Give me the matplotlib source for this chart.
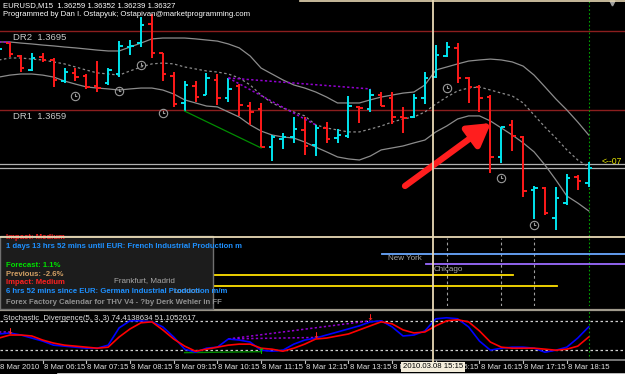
import matplotlib
matplotlib.use('Agg')
import matplotlib.pyplot as plt
import matplotlib.transforms as mtransforms
from matplotlib import font_manager
from matplotlib.path import Path
from matplotlib.patches import Rectangle
import numpy as np

# ---- EURUSD M15 bars, 8 Mar 2010 05:15 .. 18:45 ----
opens = [1.36859, 1.36895, 1.36836, 1.36772, 1.36831, 1.36818, 1.36722, 1.36759, 1.36745, 1.36699,
         1.36713, 1.36754, 1.36877, 1.36895, 1.36982, 1.36850, 1.36745, 1.36622, 1.36699, 1.36658,
         1.36727, 1.36645, 1.36699, 1.36608, 1.36595, 1.36421, 1.36458, 1.36467, 1.36499, 1.36430,
         1.36508, 1.36462, 1.36471, 1.36604, 1.36595, 1.36658, 1.36645, 1.36558, 1.36558, 1.36645,
         1.36740, 1.36836, 1.36873, 1.36736, 1.36695, 1.36649, 1.36376, 1.36522, 1.36467, 1.36225,
         1.36234, 1.36098, 1.36166, 1.36285, 1.36259]
highs = [1.36886, 1.36900, 1.36841, 1.36850, 1.36850, 1.36827, 1.36781, 1.36781, 1.36754, 1.36813,
         1.36781, 1.36904, 1.36909, 1.37014, 1.37027, 1.36850, 1.36763, 1.36722, 1.36722, 1.36759,
         1.36754, 1.36736, 1.36708, 1.36626, 1.36622, 1.36476, 1.36485, 1.36558, 1.36558, 1.36522,
         1.36535, 1.36503, 1.36654, 1.36608, 1.36686, 1.36672, 1.36672, 1.36604, 1.36663, 1.36763,
         1.36886, 1.36900, 1.36895, 1.36740, 1.36704, 1.36658, 1.36512, 1.36544, 1.36471, 1.36244,
         1.36239, 1.36239, 1.36298, 1.36294, 1.36352]
lows = [1.36854, 1.36831, 1.36763, 1.36768, 1.36809, 1.36695, 1.36713, 1.36722, 1.36686, 1.36672,
        1.36704, 1.36740, 1.36841, 1.36877, 1.36827, 1.36722, 1.36604, 1.36585, 1.36626, 1.36658,
        1.36613, 1.36626, 1.36563, 1.36522, 1.36417, 1.36357, 1.36412, 1.36440, 1.36385, 1.36380,
        1.36440, 1.36440, 1.36462, 1.36531, 1.36581, 1.36608, 1.36526, 1.36485, 1.36553, 1.36617,
        1.36736, 1.36831, 1.36713, 1.36622, 1.36581, 1.36303, 1.36348, 1.36403, 1.36193, 1.36093,
        1.36111, 1.36043, 1.36157, 1.36225, 1.36239]
closes = [1.36868, 1.36845, 1.36781, 1.36827, 1.36818, 1.36727, 1.36763, 1.36740, 1.36695, 1.36690,
          1.36772, 1.36882, 1.36882, 1.36977, 1.36850, 1.36754, 1.36617, 1.36704, 1.36649, 1.36736,
          1.36645, 1.36686, 1.36613, 1.36581, 1.36421, 1.36467, 1.36467, 1.36503, 1.36426, 1.36508,
          1.36458, 1.36476, 1.36608, 1.36599, 1.36658, 1.36608, 1.36558, 1.36553, 1.36645, 1.36736,
          1.36841, 1.36877, 1.36736, 1.36695, 1.36645, 1.36376, 1.36512, 1.36471, 1.36221, 1.36234,
          1.36120, 1.36189, 1.36280, 1.36266, 1.36327]

# envelope / band lines
band_upper = [1.36900, 1.36900, 1.36895, 1.36891, 1.36886, 1.36882, 1.36877, 1.36873, 1.36868, 1.36863,
              1.36859, 1.36859, 1.36877, 1.36895, 1.36914, 1.36918, 1.36918, 1.36918, 1.36914, 1.36909,
              1.36904, 1.36891, 1.36873, 1.36836, 1.36781, 1.36754, 1.36727, 1.36704, 1.36690, 1.36672,
              1.36649, 1.36622, 1.36622, 1.36622, 1.36636, 1.36649, 1.36658, 1.36667, 1.36672, 1.36704,
              1.36772, 1.36786, 1.36800, 1.36813, 1.36818, 1.36822, 1.36818, 1.36809, 1.36790, 1.36749,
              1.36695, 1.36640, 1.36590, 1.36535, 1.36476]
band_mid = [1.36818, 1.36827, 1.36827, 1.36822, 1.36818, 1.36809, 1.36800, 1.36786, 1.36772, 1.36759,
            1.36754, 1.36749, 1.36768, 1.36786, 1.36800, 1.36804, 1.36800, 1.36786, 1.36777, 1.36768,
            1.36763, 1.36754, 1.36736, 1.36704, 1.36658, 1.36622, 1.36599, 1.36581, 1.36563, 1.36522,
            1.36508, 1.36499, 1.36490, 1.36490, 1.36503, 1.36517, 1.36535, 1.36549, 1.36558, 1.36581,
            1.36617, 1.36649, 1.36677, 1.36690, 1.36695, 1.36681, 1.36667, 1.36654, 1.36622, 1.36567,
            1.36512, 1.36462, 1.36408, 1.36362, 1.36330]
band_lower = [1.36740, 1.36749, 1.36754, 1.36754, 1.36749, 1.36740, 1.36722, 1.36708, 1.36695, 1.36690,
              1.36686, 1.36681, 1.36686, 1.36690, 1.36690, 1.36681, 1.36663, 1.36636, 1.36622, 1.36608,
              1.36604, 1.36581, 1.36558, 1.36522, 1.36494, 1.36476, 1.36467, 1.36462, 1.36444, 1.36421,
              1.36399, 1.36376, 1.36367, 1.36362, 1.36380, 1.36408, 1.36417, 1.36426, 1.36440, 1.36453,
              1.36490, 1.36517, 1.36549, 1.36563, 1.36563, 1.36540, 1.36508, 1.36476, 1.36440, 1.36399,
              1.36339, 1.36271, 1.36198, 1.36166, 1.36130]

# Stochastic_Divergence(5,3,3)
stoch_main = [53.1, 55.2, 51.0, 44.8, 38.6, 30.3, 28.3, 26.2, 24.1, 24.1,
              30.3, 65.5, 80.0, 80.0, 77.9, 67.6, 46.9, 22.1, 15.9, 24.1,
              26.2, 42.8, 40.7, 36.6, 20.0, 17.9, 20.0, 32.4, 40.7, 44.8,
              51.0, 57.2, 63.4, 69.7, 77.9, 80.0, 67.6, 49.0, 51.0, 59.3,
              84.1, 86.2, 84.1, 67.6, 38.6, 20.0, 24.1, 26.2, 26.2, 24.1,
              15.9, 20.0, 26.2, 44.8, 67.6]
stoch_signal = [44.8, 51.0, 51.0, 49.0, 40.7, 34.5, 30.3, 28.3, 26.2, 24.1,
                26.2, 46.9, 63.4, 75.9, 77.9, 61.4, 42.8, 28.3, 17.9, 22.1,
                26.2, 30.3, 32.4, 32.4, 24.1, 22.1, 17.9, 24.1, 32.4, 42.8,
                44.8, 49.0, 53.1, 61.4, 69.7, 77.9, 73.8, 61.4, 55.2, 57.2,
                69.7, 80.0, 82.1, 77.9, 59.3, 36.6, 26.2, 24.1, 24.1, 24.1,
                22.1, 20.0, 22.1, 28.3, 46.9]

time_labels = ['8 Mar 2010', '8 Mar 06:15', '8 Mar 07:15', '8 Mar 08:15', '8 Mar 09:15',
               '8 Mar 10:15', '8 Mar 11:15', '8 Mar 12:15', '8 Mar 13:15', '8 Mar 14:15',
               '8 Mar 15:15', '8 Mar 16:15', '8 Mar 17:15', '8 Mar 18:15']

dr_names = ['DR2', 'DR1']
dr_levels = [1.3695, 1.3659]
price_lines = [1.36345, 1.36327]

clock_bars = [7, 11, 13, 15, 41, 46, 49]
clock_prices = [1.36654, 1.36677, 1.36795, 1.36576, 1.36690, 1.36280, 1.36066]
news_bars = [41, 46, 49]

# divergence trend lines: (bar_a, bar_b), (value_a, value_b)
div_main_bars = [(-2, 1), (21, 34), (21, 29)]
div_main_prices = [(1.36900, 1.36900), (1.36736, 1.36686), (1.36736, 1.36522)]
div_ind_bars = [(-2, 1), (21, 34), (21, 29)]
div_ind_values = [(58, 58), (43, 80), (43, 46)]
conv_main_bars, conv_main_prices = (17, 24), (1.36585, 1.36417)
conv_ind_bars, conv_ind_values = (17, 24), (15, 17)
sell_bars, sell_values = [1, 29, 34], [59, 51, 86]
buy_bars, buy_values = [24], [18]

cursor_bar = 39.75
last_bar = 54

# ---- fonts ----
names = {f.name for f in font_manager.fontManager.ttflist}
FONT = 'Liberation Sans Narrow' if 'Liberation Sans Narrow' in names else 'Liberation Sans'
plt.rcParams['font.family'] = [FONT, 'DejaVu Sans']

W, H = 625, 374
fig = plt.figure(figsize=(W / 100, H / 100), dpi=100, facecolor='black')

# main price window: pixel rows 0..306, bar k at pixel x = -1 + 10.92*k
ax = fig.add_axes([0, 68 / H, 1, 306 / H], facecolor='black')
xlim = (1 / 10.92, 626 / 10.92)
ax.set_xlim(*xlim)
ax.set_ylim(1.356966, 1.370913)
ax.axis('off')

x = np.arange(len(opens))
o, h, l, c = map(np.array, (opens, highs, lows, closes))
cols = np.where(c >= o, '#00E5EE', '#FF1A1A')

for lvl in dr_levels:
    ax.axhline(lvl, color='#8B1E1E', lw=1.0, zorder=1)
for name, lvl in zip(dr_names, dr_levels):
    ax.annotate(f'{name}  {lvl:.4f}', xy=(0.021, lvl), xycoords=('axes fraction', 'data'),
                xytext=(0, -1.5), textcoords='offset points', va='top', ha='left',
                color='#C8C8C8', fontsize=6.8)
for p in price_lines:
    ax.axhline(p, color='#B0B0B0', lw=0.9, zorder=1)

ax.plot(x, band_upper, color='#8C8C8C', lw=0.9, zorder=2)
ax.plot(x, band_mid, color='#8C8C8C', lw=0.9, ls=(0, (2, 2)), zorder=2)
ax.plot(x, band_lower, color='#8C8C8C', lw=0.9, zorder=2)

ax.vlines(x, l, h, colors=cols, lw=1.4, zorder=3)
ax.hlines(o, x - 0.32, x, colors=cols, lw=1.4, zorder=3)
ax.hlines(c, x, x + 0.32, colors=cols, lw=1.4, zorder=3)

for (a, b), (pa, pb) in zip(div_main_bars, div_main_prices):
    ax.plot([a, b], [pa, pb], color='#9400D3', lw=1.1, ls=(0, (1.5, 1.5)), zorder=4)
ax.plot(conv_main_bars, conv_main_prices, color='#008C00', lw=0.9, zorder=4)

# clock icons of news events
clock = Path.make_compound_path(Path.unit_circle(),
                                Path([(0, 0.65), (0, 0), (0.45, 0)],
                                     [Path.MOVETO, Path.LINETO, Path.LINETO]))
ax.plot(clock_bars, clock_prices, ls='none', marker=clock, ms=6, mfc='none',
        mec='#9A9A9A', mew=0.8, zorder=4)
ax.vlines(news_bars, 1.356966, 1.36006, colors='#A0A0A0', lw=0.8,
          linestyles=(0, (2.5, 2.5)), zorder=2)
ax.axvline(last_bar, color='#00A000', lw=0.8, ls=(0, (1.5, 2)), zorder=2)

# stochastic window
axi = fig.add_axes([0, 14 / H, 1, 49 / H], facecolor='black')
axi.set_xlim(*xlim)
axi.set_ylim(0, 100)
axi.axis('off')
for lvl in (80, 20):
    axi.axhline(lvl, color='#D0D0D0', lw=0.9, ls=(0, (2, 2)))
axi.plot(x, stoch_main, color='#0000FF', lw=1.2, zorder=3)
axi.plot(x, stoch_signal, color='#FF0000', lw=1.2, zorder=3)
for (a, b), (va, vb) in zip(div_ind_bars, div_ind_values):
    axi.plot([a, b], [va, vb], color='#9400D3', lw=1.1, ls=(0, (1.5, 1.5)), zorder=2)
axi.plot(conv_ind_bars, conv_ind_values, color='#008C00', lw=1.0, zorder=2)
for bx, bv in zip(sell_bars, sell_values):
    axi.text(bx, bv, '\u2193', color='#FF2020', fontsize=6, ha='center', va='center',
             family='DejaVu Sans', fontweight='bold', zorder=5)
for bx, bv in zip(buy_bars, buy_values):
    axi.text(bx, bv, '\u2191', color='#00C000', fontsize=6, ha='center', va='center',
             family='DejaVu Sans', fontweight='bold', zorder=5)
axi.axvline(last_bar, color='#00A000', lw=0.8, ls=(0, (1.5, 2)), zorder=2)

# time axis under the stochastic window
tr = mtransforms.blended_transform_factory(axi.transData, axi.transAxes)
for i, lab in enumerate(time_labels):
    kx = 4 * i
    axi.plot([kx, kx], [0, -0.07], color='#C0C0C0', lw=0.8, transform=tr, clip_on=False)
    axi.text(kx + 0.1, -0.145, lab, transform=tr, color='#E0E0E0', fontsize=5.6,
             ha='left', va='center', clip_on=False)

# overlay in screen pixels for terminal decorations
ov = fig.add_axes([0, 0, 1, 1], zorder=10)
ov.set_xlim(0, W)
ov.set_ylim(H, 0)
ov.axis('off')
ov.patch.set_alpha(0)

ov.text(3, 5.5, 'EURUSD,M15  1.36259 1.36352 1.36239 1.36327', color='white', fontsize=5.6, va='center')
ov.text(3, 14, 'Programmed by Dan I. Ostapyuk; Ostapivan@marketprogramming.com', color='white',
        fontsize=5.6, va='center')
ov.text(602, 161, '<--07', color='#E6E600', fontsize=6.2, va='center')
ov.plot(612, 3, marker='v', color='#A0A0A0', ms=3.5)
ov.plot([300, W], [0.7, 0.7], color='#E8D9B5', lw=1.2)

# session lines
ov.plot([213, 513], [275, 275], color='#FFE000', lw=1.3, zorder=1)
ov.plot([213, 557], [286, 286], color='#FFE000', lw=1.3, zorder=1)
ov.plot([382, W], [254, 254], color='#6AA8FF', lw=1.3, zorder=1)
ov.plot([426, W], [264, 264], color='#9A6BFF', lw=1.3, zorder=1)
ov.text(388, 258.5, 'New York', color='#A8A8A8', fontsize=5.8, va='center')
ov.text(434, 269.5, 'Chicago', color='#A8A8A8', fontsize=5.8, va='center')

# news info box
box = Rectangle((0, 236), 213, 73, facecolor='#1C1C1C', edgecolor='#707070', lw=1, zorder=2)
ov.add_patch(box)
info = [(237.5, 'Impact: Medium', '#FF2020'),
        (246.5, '1 days 13 hrs 52 mins until EUR: French Industrial Production m', '#1E90FF'),
        (265.5, 'Forecast: 1.1%', '#00E000'),
        (274, 'Previous: -2.6%', '#D2A064'),
        (282.5, 'Impact: Medium', '#FF2020'),
        (291.5, '6 hrs 52 mins since EUR: German Industrial Production m/m', '#1E90FF'),
        (302.5, 'Forex Factory Calendar for THV V4 - ?by Derk Wehler in FF', '#909090')]
for n, (yy, txt, col) in enumerate(info):
    t = ov.text(6, yy, txt, color=col, fontsize=5.6, fontweight='bold', va='center', zorder=3)
    if n == 0:
        t.set_clip_path(box)
ov.text(114, 280.5, 'Frankfurt, Madrid', color='#A8A8A8', fontsize=5.8, va='center', zorder=3)
ov.text(173, 291.5, 'London', color='#A8A8A8', fontsize=5.8, va='center', zorder=2.5)

# red arrow
ov.annotate('', xy=(491, 123), xytext=(405, 186),
            arrowprops=dict(arrowstyle='-|>,head_length=1.1,head_width=0.65', lw=4.5,
                            color='#FF1E1E', shrinkA=0, shrinkB=0, mutation_scale=12,
                            capstyle='round'), zorder=4)

# window separators
ov.plot([0, W], [309.5, 309.5], color='#A09A8C', lw=1.6, zorder=1)
ov.plot([0, W], [360, 360], color='#8C8C8C', lw=1.2, zorder=1)
ov.plot([58, W], [373.5, 373.5], color='#E0E0E0', lw=1.2, zorder=1)
ov.text(3, 319, 'Stochastic_Divergence(5, 3, 3) 74.4138634 51.1052617', color='#E0E0E0',
        fontsize=5.6, va='center')

# crosshair
ov.plot([0, W], [237, 237], color='#E8D9B5', lw=1.3, zorder=5)
ov.plot([433, 433], [0, 362], color='#E8D9B5', lw=1.3, zorder=5)
ov.text(433, 367, '2010.03.08 15:15', color='black', fontsize=5.6, ha='center', va='center',
        zorder=6, bbox=dict(boxstyle='square,pad=0.25', facecolor='#F4EEDC', edgecolor='none'))

fig.savefig('out.png', dpi=100, facecolor='black')
